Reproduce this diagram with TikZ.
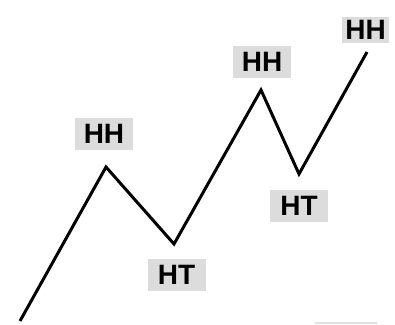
\documentclass[tikz,border=0pt]{standalone}
\usepackage{fontspec}
\setmainfont{Liberation Sans}
\begin{document}
\begin{tikzpicture}[x=1pt,y=-1pt,
  lbl/.style={fill=labelgray, font=\bfseries\fontsize{28}{30}\selectfont, inner sep=0pt, minimum width=58pt, minimum height=32pt, text depth=0pt},
  zig/.style={line width=3pt, line join=miter, black}]
\definecolor{labelgray}{HTML}{DCDCDC}
\definecolor{faint}{HTML}{E0E0E0}
\useasboundingbox (0,0) rectangle (395,324);
\coordinate (p0) at (20,321);
\coordinate (p1) at (106,167);
\coordinate (p2) at (174,244);
\coordinate (p3) at (261,90);
\coordinate (p4) at (299,174);
\coordinate (p5) at (367,52);
\draw[zig] (p0) -- (p1) -- (p2) -- (p3) -- (p4) -- (p5);
\node[lbl] (hh1) at (104,134) {HH};
\node[lbl] (ht1) at (176.5,274.5) {HT};
\node[lbl] (hh2) at (262,62) {HH};
\node[lbl] (ht2) at (299,206) {HT};
\node[lbl, minimum width=47pt, minimum height=26pt] (hh3) at (365.5,30) {HH};
\coordinate (f0) at (315,323);
\coordinate (f1) at (377,323);
\draw[faint, line width=2pt] (f0) -- (f1);
\end{tikzpicture}
\end{document}
